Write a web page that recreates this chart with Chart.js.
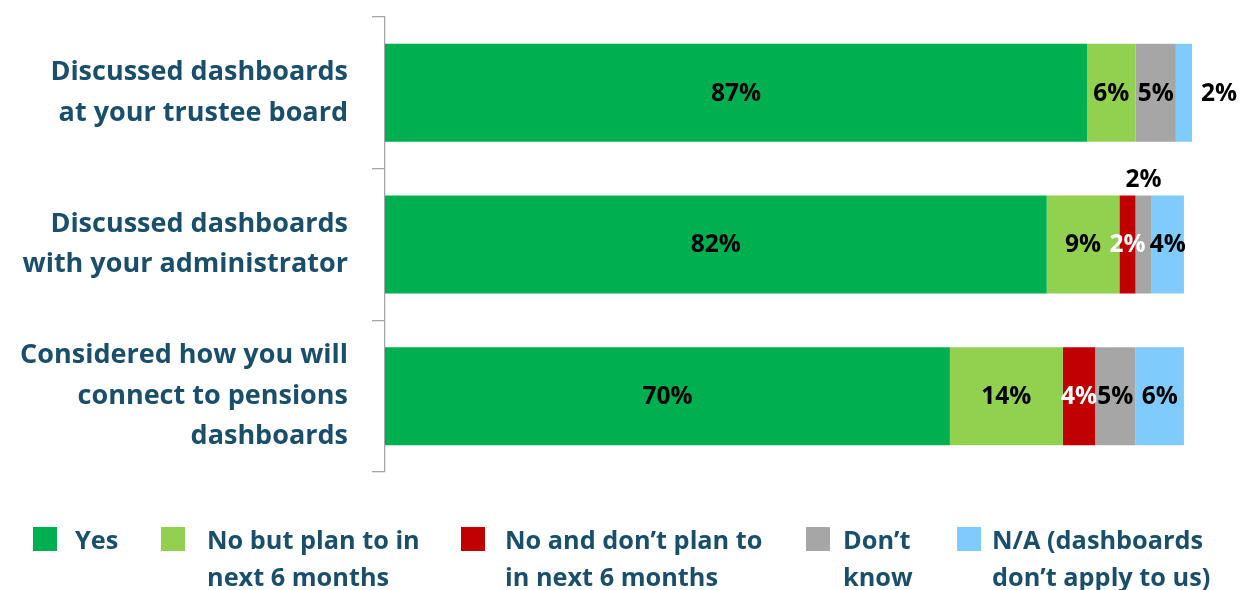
<!DOCTYPE html>
<html>
<head>
<meta charset="utf-8">
<script src="https://cdn.jsdelivr.net/npm/chart.js@4.4.1/dist/chart.umd.min.js"></script>
<style>
  html, body { margin: 0; padding: 0; background: #fff; }
  #wrap { position: relative; width: 1246px; height: 590px; }
  #chart { position: absolute; left: 0; top: 0; }
  #legend { position: absolute; left: 0; top: 0; width: 1246px; height: 590px; pointer-events: none;
            font-family: "Open Sans", Lato, sans-serif; font-weight: 700; font-size: 25.3px; color: #1A4F6C; }
  .lg-box { position: absolute; width: 24px; height: 24px; top: 527px; }
  .lg-text { position: absolute; top: 521px; line-height: 37px; white-space: nowrap; }
</style>
</head>
<body>
<div id="wrap">
  <canvas id="chart" width="1246" height="590"></canvas>
  <div id="legend"></div>
</div>
<script>
// Survey questions (multi-line category labels)
const categories = [
  ['Discussed dashboards', 'at your trustee board'],
  ['Discussed dashboards', 'with your administrator'],
  ['Considered how you will', 'connect to pensions', 'dashboards']
];

// Share of respondents (%) per answer
const yes           = [87, 82, 70];
const planned       = [6, 9, 14];
const notPlanned    = [0, 2, 4];
const dontKnow      = [5, 2, 5];
const notApplicable = [2, 4, 6];

// Legend wording, one entry per line
const seriesNames = [
  ['Yes'],
  ['No but plan to in', 'next 6 months'],
  ['No and don\u2019t plan to', 'in next 6 months'],
  ['Don\u2019t', 'know'],
  ['N/A (dashboards', 'don\u2019t apply to us)']
];

const colours = ['#00B050', '#92D050', '#C00000', '#A6A6A6', '#7FCBFB'];
const labelColours = ['#000', '#000', '#fff', '#000', '#000'];
const seriesValues = [yes, planned, notPlanned, dontKnow, notApplicable];

const FONT = '"Open Sans", Lato, sans-serif';
const TEAL = '#1A4F6C';

// Where a narrow segment's label goes instead of its centre
const outsideLabels = { '4:0': 'right', '3:1': 'above' };

const valueLabels = {
  id: 'valueLabels',
  afterDatasetsDraw(chart) {
    const ctx = chart.ctx;
    ctx.save();
    ctx.font = 'bold 24.5px ' + FONT;
    ctx.textAlign = 'center';
    ctx.textBaseline = 'middle';
    chart.data.datasets.forEach((ds, di) => {
      const meta = chart.getDatasetMeta(di);
      meta.data.forEach((bar, i) => {
        const v = ds.data[i];
        if (!v) return;
        const text = v + '%';
        const left = Math.min(bar.x, bar.base);
        const right = Math.max(bar.x, bar.base);
        let x = (left + right) / 2;
        let y = bar.y;
        let colour = labelColours[di];
        const place = outsideLabels[di + ':' + i];
        if (place === 'right') { x = right + 27; colour = '#000'; }
        if (place === 'above') { y = bar.y - bar.height / 2 - 16; colour = '#000'; }
        ctx.fillStyle = colour;
        ctx.fillText(text, x, y + 1);
      });
    });
    ctx.restore();
  }
};

const chart = new Chart(document.getElementById('chart'), {
  type: 'bar',
  data: {
    labels: categories,
    datasets: seriesValues.map((vals, k) => ({
      label: seriesNames[k].join(' '),
      data: vals,
      backgroundColor: colours[k],
      borderWidth: 0,
      categoryPercentage: 1,
      barPercentage: 0.646
    }))
  },
  options: {
    indexAxis: 'y',
    responsive: false,
    animation: false,
    devicePixelRatio: 1,
    layout: { padding: { top: 17, right: 54, bottom: 118, left: 0 } },
    plugins: { legend: { display: false }, tooltip: { enabled: false } },
    scales: {
      x: {
        stacked: true, min: 0, max: 100, display: false
      },
      y: {
        stacked: true,
        grid: {
          offset: true,
          drawOnChartArea: false,
          drawTicks: true,
          tickLength: 13,
          color: '#A6A6A6',
          lineWidth: 1.3
        },
        border: { display: true, color: '#A6A6A6', width: 1.3 },
        ticks: {
          color: TEAL,
          padding: 24,
          font: { family: FONT, size: 27, weight: 'bold', lineHeight: 1.5 }
        },
        afterFit(scale) {
          scale.width = 385;
          scale.paddingTop = 0;
          scale.paddingBottom = 0;
        }
      }
    }
  },
  plugins: [valueLabels]
});

// Legend built from the chart's datasets
const legendLeft = [33, 161, 461, 806, 957];
const legendTextGap = [42, 46, 44, 37, 35];
const legend = document.getElementById('legend');
chart.data.datasets.forEach((ds, k) => {
  const box = document.createElement('div');
  box.className = 'lg-box';
  box.style.left = legendLeft[k] + 'px';
  box.style.background = ds.backgroundColor;
  legend.appendChild(box);
  const txt = document.createElement('div');
  txt.className = 'lg-text';
  txt.style.left = (legendLeft[k] + legendTextGap[k]) + 'px';
  txt.innerHTML = seriesNames[k].join('<br>');
  legend.appendChild(txt);
});
</script>
</body>
</html>
